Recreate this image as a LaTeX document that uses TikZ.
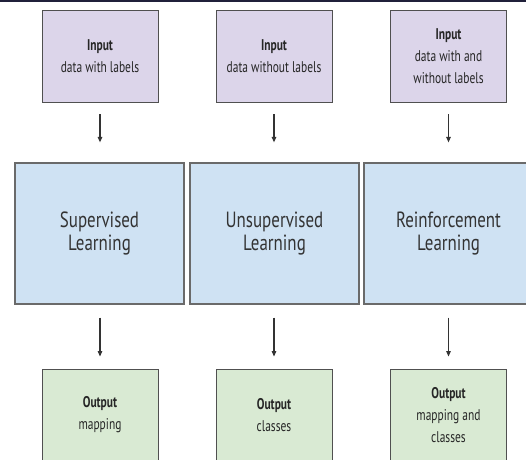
\documentclass[tikz,border=0pt]{standalone}
\usepackage{fontspec}
\setmainfont{PT Sans}[FakeStretch=0.77]
\newfontfamily\boxfont{PT Sans}[FakeStretch=0.74]
\usetikzlibrary{arrows.meta}
\definecolor{inputfill}{HTML}{DCD5EA}
\definecolor{learnfill}{HTML}{CFE2F3}
\definecolor{outputfill}{HTML}{D9EAD3}
\definecolor{edgegrey}{HTML}{505050}
\definecolor{learnedge}{HTML}{6A6A6A}
\definecolor{topband}{HTML}{20203A}
\tikzset{
  smallbox/.style={draw=edgegrey, line width=0.9pt, minimum width=116pt, minimum height=92pt,
    inner sep=0pt, align=center, font=\boxfont\fontsize{15.5}{22}\selectfont, text=black!85},
  inbox/.style={smallbox, fill=inputfill},
  outbox/.style={smallbox, fill=outputfill},
  learnbox/.style={draw=learnedge, line width=1.2pt, fill=learnfill, minimum width=169pt,
    minimum height=141pt, inner sep=0pt, align=center,
    font=\fontsize{22}{23}\selectfont, text=black!80},
  flow/.style={-{Triangle[length=5.5pt,width=4.5pt]}, line width=1.1pt, draw=black!80},
  intop/.style={flow, shorten <=12pt, shorten >=20pt},
  inbottom/.style={flow, shorten <=13pt, shorten >=12pt}
}
\begin{document}
\begin{tikzpicture}[x=1pt,y=1pt]
  \useasboundingbox (0,0) rectangle (526,459);
  \clip (0,0) rectangle (526,459);
  \fill[white] (0,0) rectangle (526,459);

  % inputs
  \node[inbox] (in1) at (100,403) {\textbf{Input}\\data with labels};
  \node[inbox] (in2) at (274,403) {\textbf{Input}\\data without labels};
  \node[inbox] (in3) at (448.5,403) {\textbf{Input}\\data with and\\without labels};

  % learning paradigms
  \node[learnbox] (l1) at (99.5,225.5) {Supervised\\Learning};
  \node[learnbox] (l2) at (274.5,225.5) {Unsupervised\\Learning};
  \node[learnbox] (l3) at (448.5,225.5) {Reinforcement\\Learning};

  % outputs
  \node[outbox] (out1) at (100,44) {\textbf{Output}\\mapping};
  \node[outbox] (out2) at (274,44) {\textbf{Output}\\classes};
  \node[outbox] (out3) at (448.5,44) {\textbf{Output}\\mapping and\\classes};

  % connectors
  \draw[intop] (in1.south) -- (in1.south |- l1.north);
  \draw[intop] (in2.south) -- (in2.south |- l2.north);
  \draw[intop] (in3.south) -- (in3.south |- l3.north);
  \draw[inbottom] (l1.south -| out1.north) -- (out1.north);
  \draw[inbottom] (l2.south -| out2.north) -- (out2.north);
  \draw[inbottom] (l3.south -| out3.north) -- (out3.north);

  % dark strip along the top edge
  \fill[topband] (0,456.5) rectangle (526,459);
\end{tikzpicture}
\end{document}
